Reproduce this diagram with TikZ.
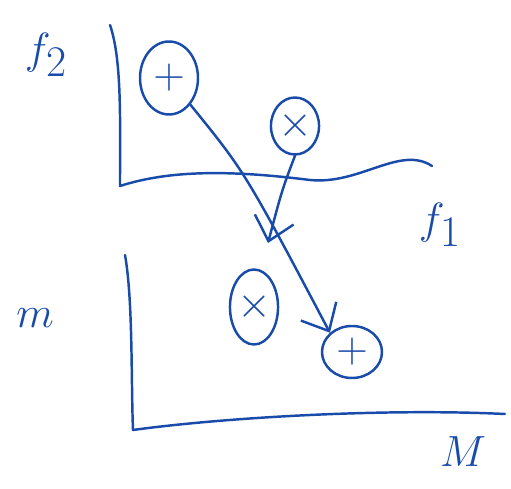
\documentclass[tikz,border=0pt]{standalone}
\usepackage{tikz}
\usetikzlibrary{shapes.geometric,arrows.meta,positioning}
\definecolor{cInk}{RGB}{25,75,170}
\tikzset{
  pen/.style={draw=cInk,line width=1.4pt,line cap=round,line join=round},
  axisline/.style={pen},
  ptnode/.style={ellipse,pen,text=cInk,inner sep=0pt,
                 font=\fontsize{24}{24}\selectfont},
  lbl/.style={text=cInk,font=\fontsize{34}{34}\selectfont},
  maparr/.style={pen,-{Straight Barb[length=4.5mm,width=8mm]}}
}
\begin{document}
\begin{tikzpicture}[x={(0.02cm,0)},y={(0,-0.02cm)}]
  \useasboundingbox (0,0) rectangle (511,489);

  % objective space
  \coordinate (oTop) at (120,186);
  \draw[axisline] (110,25) .. controls (122,60) and (120,120) .. (oTop)
      .. controls (170,170) and (230,170) .. (310,180)
      .. controls (360,185) and (400,145) .. (432,166);
  % decision space
  \coordinate (oLow) at (133,430);
  \draw[axisline] (125,255) .. controls (133,300) and (131,380) .. (oLow)
      .. controls (220,418) and (380,408) .. (505,414);

  \node[lbl] (fTwo) at (46,55) {$f_2$};
  \node[lbl] (fOne) at (440,225) {$f_1$};
  \node[lbl] (mLow) at (35,318) {$m$};
  \node[lbl] (mUp) at (463,452) {$M$};

  \node[ptnode,minimum width=1.16cm,minimum height=1.46cm] (pA) at (169,78) {$+$};
  \node[ptnode,minimum width=0.9cm,minimum height=1.14cm] (xA) at (295,126) {$\times$};
  \node[ptnode,minimum width=0.95cm,minimum height=1.5cm] (xB) at (254,307) {$\times$};
  \node[ptnode,minimum width=1.2cm,minimum height=1.04cm] (pB) at (352,352) {$+$};

  \coordinate (xEnd) at (268,243);
  \draw[maparr] (pA.south east) .. controls (245,172) .. (pB.north west);
  \draw[maparr] (xA.south) .. controls (282,190) .. (xEnd);
\end{tikzpicture}
\end{document}
